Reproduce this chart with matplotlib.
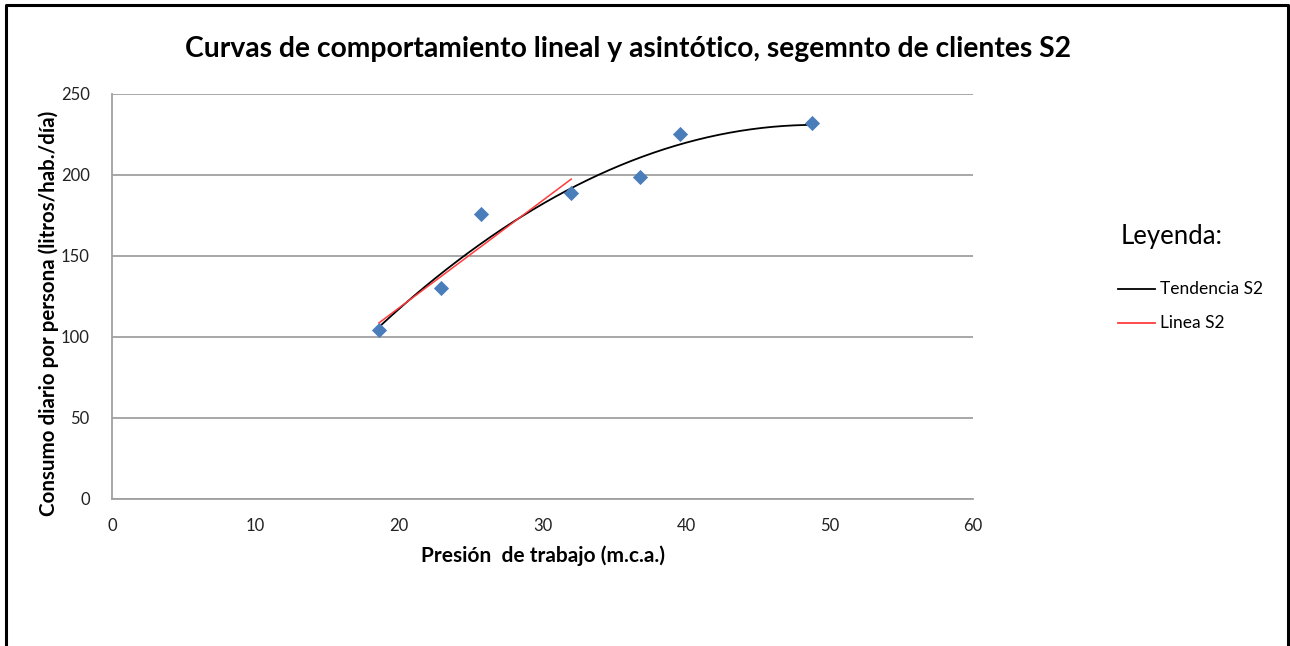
import numpy as np
import matplotlib.pyplot as plt
from matplotlib.lines import Line2D

# presion de trabajo (m.c.a.) vs consumo diario (l/hab/dia), segmento S2
presion = [18.6, 22.9, 25.7, 32.0, 36.8, 39.6, 48.8]
consumo = [104, 130, 176, 189, 199, 225, 232]
n_lineal = 4   # puntos usados para la recta

plt.rcParams['font.family'] = ['Lato', 'DejaVu Sans']

fig = plt.figure(figsize=(12.9, 6.46), dpi=100)
ax = fig.add_axes([0.0868, 0.2276, 0.6675, 0.6269])

# tendencia polinomica (grado 2) y recta sobre los primeros puntos
c2 = np.polyfit(presion, consumo, 2)
xs = np.linspace(presion[0], presion[-1], 200)
ax.plot(xs, np.polyval(c2, xs), color='black', lw=1.3, zorder=3)

c1 = np.polyfit(presion[:n_lineal], consumo[:n_lineal], 1)
xl = np.array([presion[0], presion[n_lineal - 1]])
ax.plot(xl, np.polyval(c1, xl), color='#ff3b3b', lw=1.1, zorder=4)

ax.scatter(presion, consumo, marker='D', s=60, color='#4a7ebb', zorder=5, linewidths=0)

ax.set_xlim(0, 60)
ax.set_ylim(0, 250)
ax.set_xticks(range(0, 61, 10))
ax.set_yticks(range(0, 251, 50))
ax.tick_params(length=0, labelsize=12, colors='#222222')
ax.tick_params(axis='y', pad=16)
ax.tick_params(axis='x', pad=14)
ax.grid(axis='y', color='#a0a0a0', lw=1.3)
ax.set_axisbelow(True)
for s in ['top', 'right']:
    ax.spines[s].set_visible(False)
for s in ['left', 'bottom']:
    ax.spines[s].set_color('#a0a0a0')
    ax.spines[s].set_linewidth(1.3)

ax.set_xlabel('Presión  de trabajo (m.c.a.)', fontsize=15, fontweight='bold', labelpad=8)
ax.set_ylabel('Consumo diario por persona (litros/hab./día)', fontsize=14.8,
              fontweight='bold')
ax.yaxis.set_label_coords(-0.061, 0.459)

fig.text(0.487, 0.924, 'Curvas de comportamiento lineal y asintótico, segemnto de clientes S2',
         ha='center', va='center', fontsize=20.3, fontweight='bold')

# leyenda
fig.text(0.869, 0.634, 'Leyenda:', ha='left', va='center', fontsize=18.5)
fig.add_artist(Line2D([0.867, 0.895], [0.553, 0.553], color='black', lw=1.3))
fig.text(0.899, 0.553, 'Tendencia S2', ha='left', va='center', fontsize=12.5)
fig.add_artist(Line2D([0.867, 0.895], [0.500, 0.500], color='#ff3b3b', lw=1.3))
fig.text(0.899, 0.500, 'Linea S2', ha='left', va='center', fontsize=12.5)

# marco (sin borde inferior)
fig.add_artist(Line2D([0.0047, 0.0047, 0.9984, 0.9984], [0.0, 0.9915, 0.9915, 0.0],
                      color='black', lw=2.2))

fig.savefig('out.png', dpi=100)
